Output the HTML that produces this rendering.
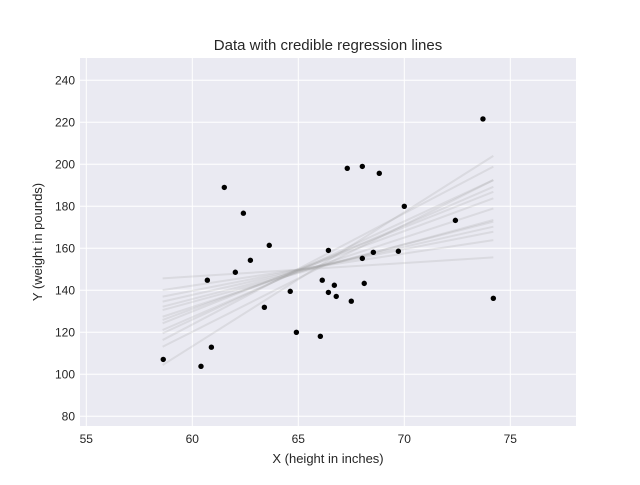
<!DOCTYPE html>
<html><head><meta charset="utf-8"><style>
body{margin:0;background:#fff;}
svg text{font-family:"Liberation Sans",sans-serif;fill:#262626;}
</style></head><body>
<svg width="640" height="480" xmlns="http://www.w3.org/2000/svg">
<rect x="80" y="58" width="496" height="368" fill="#EAEAF2"/>
<g id="grid"></g><g id="lines"></g><g id="points"></g><g id="ticks"></g>
<text x="328" y="50" text-anchor="middle" font-size="15">Data with credible regression lines</text>
<text x="328" y="463" text-anchor="middle" font-size="13">X (height in inches)</text>
<text transform="translate(42,242) rotate(-90)" text-anchor="middle" font-size="13">Y (weight in pounds)</text>
</svg>
<script>
const xTicks=[55,60,65,70,75];
const yTicks=[80,100,120,140,160,180,200,220,240];
const px=[58.63,60.41,60.90,60.71,61.51,62.41,62.03,62.74,63.63,63.40,64.62,64.91,66.04,66.13,66.42,66.42,66.70,66.79,67.50,67.31,68.02,68.82,68.02,68.11,68.54,69.72,70.0,72.41,74.20,73.71];
const py=[107.1,103.8,112.9,144.8,189.0,176.7,148.6,154.3,161.4,131.9,139.5,120.0,118.1,144.8,159.0,139.0,142.4,137.1,134.8,198.1,199.0,195.7,155.2,143.3,158.1,158.6,180.0,173.3,136.2,221.6];
const lineX0=58.6, lineX1=74.2;
const lineStart=[145.7,140.1,137.0,134.6,132.2,130.6,127.4,125.9,124.3,121.1,119.5,116.3,113.1,104.4];
const lineEnd=[155.7,163.9,167.9,170.3,172.7,173.5,179.0,183.8,186.9,189.3,192.5,198.9,192.5,204.0];
const X=v=>192.3+(v-60)*21.2, Y=v=>164.3+(200-v)*2.1;
const NS="http://www.w3.org/2000/svg";
function mk(t,a,p){const e=document.createElementNS(NS,t);for(const k in a)e.setAttribute(k,a[k]);document.getElementById(p).appendChild(e);return e;}
xTicks.forEach(t=>{
 const l=mk('line',{x1:X(t),x2:X(t),y1:58,y2:426,stroke:'#fff','stroke-width':1},'grid');
 
 
 const tx=mk('text',{x:X(t),y:443,'text-anchor':'middle','font-size':12},'ticks');tx.textContent=t;
 
 
});
yTicks.forEach(t=>{
 const l=mk('line',{x1:80,x2:576,y1:Y(t),y2:Y(t),stroke:'#fff','stroke-width':1},'grid');
 
 
 const tx=mk('text',{x:75,y:Y(t)+4,'text-anchor':'end','font-size':12},'ticks');tx.textContent=t;
 
 
});
lineStart.forEach((s,i)=>{
 const l=mk('line',{x1:X(lineX0),y1:Y(s),x2:X(lineX1),y2:Y(lineEnd[i]),stroke:'#999','stroke-opacity':0.2,'stroke-width':2},'lines');
 
 
});
px.forEach((v,i)=>{
 const c=mk('circle',{cx:X(v),cy:Y(py[i]),r:2.7,fill:'#000'},'points');
 
 
});
</script>
</body></html>
